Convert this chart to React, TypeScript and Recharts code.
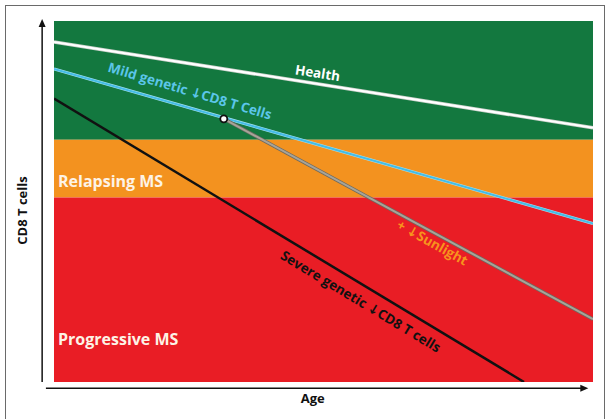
import { ComposedChart, Line, XAxis, YAxis, ReferenceArea, ReferenceDot, ReferenceLine } from "recharts";

// Schematic: age on x (0-100), CD8 T cell level on y (0-100)
const zones = [
  { name: "Health", from: 67.1, to: 100, color: "#13783f" },
  { name: "Relapsing MS", from: 51.1, to: 67.1, color: "#f3921f" },
  { name: "Progressive MS", from: 0, to: 51.1, color: "#e91d25" },
];

const healthAge = [0, 100];
const healthLevel = [94.2, 70.4];
const mildAge = [0, 100];
const mildLevel = [86.7, 43.9];
const severeAge = [0, 87.2];
const severeLevel = [78.5, 0];
const sunlightAge = [31.5, 100];
const sunlightLevel = [72.9, 17.4];

const toPoints = (ages: number[], levels: number[]) => ages.map((age, i) => ({ age, level: levels[i] }));

const healthData = toPoints(healthAge, healthLevel);
const mildData = toPoints(mildAge, mildLevel);
const severeData = toPoints(severeAge, severeLevel);
const sunlightData = toPoints(sunlightAge, sunlightLevel);

// annotation anchors [age, level]
const lineLabels = [
  { text: "Health", age: 48.9, level: 85.6, angle: 9, color: "#ffffff" },
  { text: "Mild genetic \u2193CD8 T Cells", age: 25.2, level: 80.6, angle: 16.5, color: "#5cc6ea" },
  { text: "Severe genetic \u2193CD8 T cells", age: 56.9, level: 22.3, angle: 31, color: "#111111" },
  { text: "+ \u2193Sunlight", age: 70.2, level: 38.6, angle: 29, color: "#f7941d" },
];
const zoneLabels = [
  { text: "Relapsing MS", level: 55.5 },
  { text: "Progressive MS", level: 11.9 },
];

const font = "'Open Sans', 'DejaVu Sans', sans-serif";

const arrowUp = (p: any) => <path d={`M${p.cx},${p.cy - 5} l-3.5,8 h7 z`} fill="#111" />;
const arrowRight = (p: any) => <path d={`M${p.cx + 5},${p.cy} l-8,-3.5 v7 z`} fill="#111" />;

export default function App() {
  return (
    <div style={{ position: "absolute", left: 0, top: 0, width: 606, height: 419, overflow: "hidden", background: "#fff" }}>
      <div style={{ position: "absolute", left: 5, top: 5, width: 598, height: 430, border: "1px solid #6a6a6a" }} />
      <div style={{ position: "absolute", left: 0, top: 0 }}>
        <ComposedChart width={606} height={419} margin={{ top: 21, right: 13, bottom: 37, left: 54 }}>
          <XAxis type="number" dataKey="age" domain={[0, 100]} hide allowDataOverflow />
          <YAxis type="number" dataKey="level" domain={[0, 100]} hide allowDataOverflow />
          {zones.map((z) => (
            <ReferenceArea key={z.name} x1={0} x2={100} y1={z.from} y2={z.to} fill={z.color} fillOpacity={1} stroke="none" />
          ))}
          <Line data={healthData} dataKey="level" type="linear" stroke="#c9cfc9" strokeWidth={3.5} dot={false} isAnimationActive={false} />
          <Line data={healthData} dataKey="level" type="linear" stroke="#ffffff" strokeWidth={2} dot={false} isAnimationActive={false} />
          <Line data={mildData} dataKey="level" type="linear" stroke="#a9e0f2" strokeWidth={3} dot={false} isAnimationActive={false} />
          <Line data={mildData} dataKey="level" type="linear" stroke="#45bde6" strokeWidth={2} dot={false} isAnimationActive={false} />
          <Line data={sunlightData} dataKey="level" type="linear" stroke="#6c6a62" strokeWidth={3.5} dot={false} isAnimationActive={false} />
          <Line data={sunlightData} dataKey="level" type="linear" stroke="#a8a498" strokeWidth={2} dot={false} isAnimationActive={false} />
          <Line data={severeData} dataKey="level" type="linear" stroke="#111111" strokeWidth={2.5} dot={false} isAnimationActive={false} />
          <ReferenceDot x={sunlightAge[0]} y={sunlightLevel[0]} r={3.5} fill="#ffffff" stroke="#111" strokeWidth={1.8} />

          {lineLabels.map((l) => (
            <ReferenceDot
              key={l.text}
              x={l.age}
              y={l.level}
              r={0}
              stroke="none"
              fill="none"
              label={{ value: l.text, position: "center", angle: l.angle, fill: l.color, fontSize: 13.5, fontWeight: 700, fontFamily: font }}
            />
          ))}
          {zoneLabels.map((l) => (
            <ReferenceDot
              key={l.text}
              x={0}
              y={l.level}
              r={0}
              stroke="none"
              fill="none"
              label={{ value: l.text, position: "right", offset: 4, fill: "#fdf3e6", fontSize: 16, fontWeight: 700, fontFamily: font }}
            />
          ))}

          {/* axes with arrows */}
          <ReferenceLine segment={[{ x: -2.2, y: 0 }, { x: -2.2, y: 98.5 }]} stroke="#111" strokeWidth={1.5} ifOverflow="visible" />
          <ReferenceDot x={-2.2} y={99.2} ifOverflow="visible" shape={arrowUp} />
          <ReferenceLine segment={[{ x: -1.5, y: -1.7 }, { x: 98, y: -1.7 }]} stroke="#111" strokeWidth={1.5} ifOverflow="visible" />
          <ReferenceDot x={98.2} y={-1.7} ifOverflow="visible" shape={arrowRight} />
          <ReferenceDot
            x={-5.9}
            y={47.5}
            r={0}
            ifOverflow="visible"
            stroke="none"
            fill="none"
            label={{ value: "CD8 T cells", position: "center", angle: -90, fill: "#111", fontSize: 13, fontWeight: 700, fontFamily: font }}
          />
          <ReferenceDot
            x={48}
            y={-4.5}
            r={0}
            ifOverflow="visible"
            stroke="none"
            fill="none"
            label={{ value: "Age", position: "center", fill: "#111", fontSize: 13, fontWeight: 700, fontFamily: font }}
          />
        </ComposedChart>
      </div>
    </div>
  );
}
